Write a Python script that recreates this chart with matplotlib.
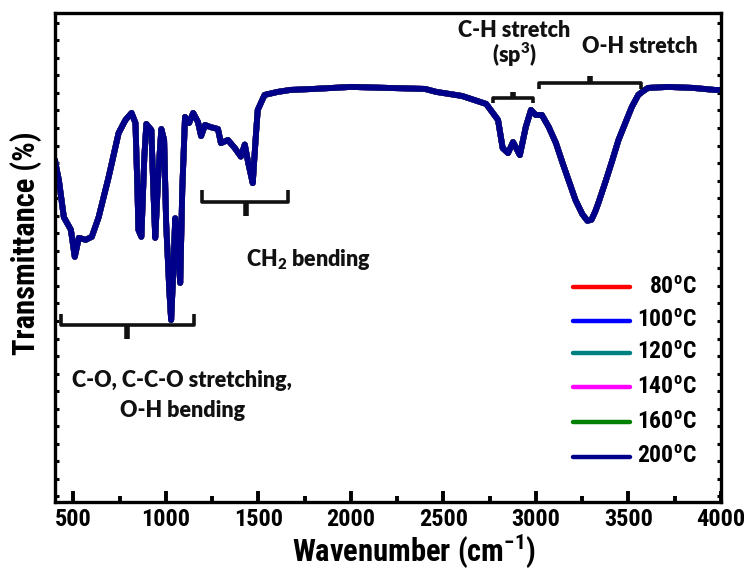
import matplotlib
matplotlib.use("Agg")
import matplotlib.pyplot as plt
from matplotlib.ticker import MultipleLocator, NullFormatter

# FTIR spectrum (wavenumber in cm^-1, transmittance in %)
wavenumber = [
    400, 410, 421, 448, 486, 507, 529, 566, 599, 636, 690, 744, 781, 814,
    835, 846, 851, 867, 883, 894, 921, 932, 942, 959, 975, 990, 1001, 1018,
    1028, 1039, 1050, 1061, 1077, 1088, 1103, 1125, 1147, 1173, 1190, 1211,
    1240, 1281, 1297, 1335, 1372, 1405, 1426, 1445, 1469, 1485, 1496, 1533,
    1603, 1673, 1800, 2000, 2200, 2400, 2462, 2600, 2731, 2795, 2820, 2849,
    2876, 2913, 2945, 2973, 2999, 3032, 3069, 3108, 3144, 3179, 3214, 3251,
    3278, 3300, 3320, 3337, 3375, 3413, 3446, 3483, 3518, 3553, 3581, 3606,
    3714, 3850, 3966, 4000,
]
transmittance = [
    70.6, 68.6, 66.6, 59.2, 56.7, 51.3, 55.1, 54.7, 55.3, 59.2, 67.2, 76.0, 78.6, 80.0,
    78.0, 64.6, 56.7, 55.3, 71.2, 77.8, 76.6, 64.6, 55.1, 68.0, 76.8, 74.6, 58.0, 44.7,
    38.7, 48.0, 59.0, 54.7, 46.1, 64.6, 79.2, 78.0, 80.0, 78.2, 75.4, 77.6,
    77.2, 76.8, 74.0, 74.6, 73.0, 71.3, 73.7, 70.0, 66.0, 75.0, 80.6, 83.6,
    84.2, 84.6, 84.8, 85.2, 85.0, 84.8, 84.2, 83.4, 81.8, 78.6, 73.0, 72.0,
    74.2, 71.6, 77.2, 80.6, 79.6, 79.6, 77.2, 74.0, 70.0, 66.3, 62.6, 59.8,
    58.5, 58.7, 60.3, 62.0, 66.2, 70.6, 74.6, 78.0, 81.2, 83.6, 84.4, 85.0,
    85.2, 85.0, 84.6, 84.6,
]

temperatures = ["80", "100", "120", "140", "160", "200"]
colors = ["#ff0000", "#0000ff", "#008080", "#ff00ff", "#008000", "#00008b"]
# the spectra at all annealing temperatures coincide
spectra = {t: transmittance for t in temperatures}

plt.rcParams["font.family"] = ["Roboto Condensed", "DejaVu Sans"]
plt.rcParams["font.weight"] = "bold"
plt.rcParams["axes.linewidth"] = 2.4

fig = plt.figure(figsize=(7.51, 5.73), dpi=100)
ax = fig.add_axes([0.0732, 0.1239, 0.8868, 0.8539])

for t, c in zip(temperatures, colors):
    ax.plot(wavenumber, spectra[t], color=c, lw=4.2,
            solid_joinstyle="round", solid_capstyle="round")

ax.set_xlim(400, 4000)
ax.set_ylim(2.4, 100)

ax.xaxis.set_major_locator(MultipleLocator(500))
ax.xaxis.set_minor_locator(MultipleLocator(250))
ax.yaxis.set_major_locator(MultipleLocator(3.5))
ax.yaxis.set_major_formatter(NullFormatter())
ax.tick_params(axis="x", which="major", direction="in", length=8, width=2.8,
               labelsize=17.5, pad=4)
ax.tick_params(axis="x", which="minor", direction="in", length=4.3, width=2.8)
ax.tick_params(axis="y", which="major", direction="in", length=3, width=2.2,
               left=True, right=True)
for lbl in ax.get_xticklabels():
    lbl.set_fontweight("bold")

xl = ax.set_xlabel("Wavenumber (cm$^{\\mathregular{-1}}$)", fontsize=22,
                   fontweight="bold")
ax.xaxis.set_label_coords(0.539, -0.121)
xl.set_va("baseline")
yl = ax.set_ylabel("Transmittance (%)", fontsize=22, fontweight="bold")
ax.yaxis.set_label_coords(-0.0435, 0.529)
yl.set_va("center")

# band assignment brackets
bracket_kw = dict(color="#111111", lw=2.6, solid_capstyle="butt")


def bracket(x0, x1, y, end_y, tick_y, xc=None):
    xc = (x0 + x1) / 2 if xc is None else xc
    ax.plot([x0, x0, x1, x1], [end_y, y, y, end_y], **bracket_kw)
    ax.plot([xc, xc], [y, tick_y], lw=4, color="#111111", solid_capstyle="butt")


bracket(432, 1152, 37.7, 39.9, 34.9, xc=792)
bracket(1195, 1662, 62.2, 64.6, 59.4, xc=1431)
bracket(2769, 2984, 83.0, 82.0, 84.2, xc=2876)
bracket(3016, 3569, 86.0, 84.8, 87.3, xc=3290)

note_font = dict(family=["Lato", "DejaVu Sans"], fontweight="heavy", fontsize=15.5,
                 color="#111111", ha="center", va="center")
ax.text(1088, 26.7, "C-O, C-C-O stretching,", **note_font)
ax.text(1088, 20.7, "O-H bending", **note_font)
ax.text(1770, 50.7, "CH$_{\\mathregular{2}}$ bending", **note_font)
ax.text(2882, 96.5, "C-H stretch", **note_font)
ax.text(2882, 91.5, "(sp$^{\\mathregular{3}}$)", **note_font)
ax.text(3560, 93.2, "O-H stretch", **note_font)

# legend: swatches with right-aligned labels
legend_y = [0.439, 0.370, 0.305, 0.235, 0.163, 0.092]
for t, c, yy in zip(temperatures, colors, legend_y):
    ax.plot([0.778, 0.863], [yy, yy], transform=ax.transAxes, color=c, lw=3.2,
            solid_capstyle="round")
    ax.text(0.964, yy, t + "$^{\\mathregular{o}}$C", transform=ax.transAxes,
            ha="right", va="center", fontsize=17, fontweight="bold")

fig.savefig("out.png", dpi=100)
